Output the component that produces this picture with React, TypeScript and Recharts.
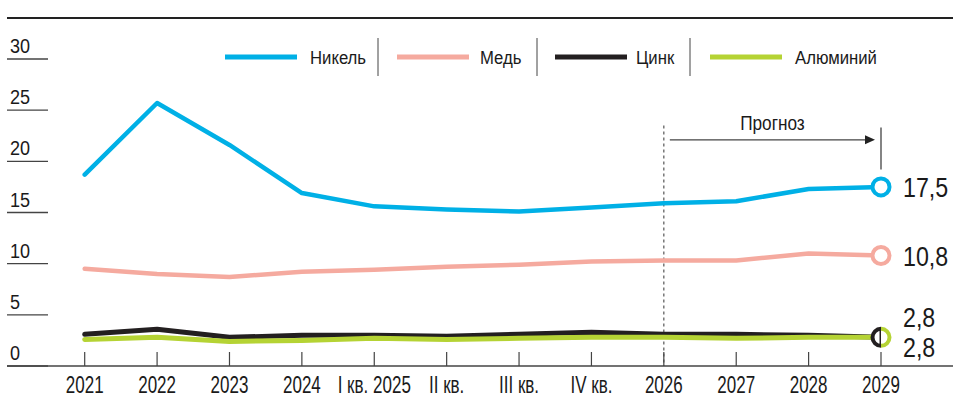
import React from 'react'
import { Line, LineChart, ReferenceLine, XAxis, YAxis } from 'recharts'

const categories = ['2021', '2022', '2023', '2024', 'I кв. 2025', 'II кв.', 'III кв.', 'IV кв.', '2026', '2027', '2028', '2029']
const nickel = [18.7, 25.7, 21.6, 16.9, 15.6, 15.3, 15.1, 15.5, 15.9, 16.1, 17.3, 17.5]
const copper = [9.5, 9.0, 8.7, 9.2, 9.4, 9.7, 9.9, 10.2, 10.3, 10.3, 11.0, 10.8]
const zinc = [3.1, 3.6, 2.8, 3.0, 3.0, 2.9, 3.1, 3.3, 3.1, 3.1, 3.0, 2.8]
const aluminium = [2.6, 2.8, 2.4, 2.5, 2.7, 2.6, 2.7, 2.8, 2.8, 2.7, 2.8, 2.8]
const yTicks = [0, 5, 10, 15, 20, 25, 30]

const FONT = "'Liberation Sans', Arial, sans-serif"
const BLUE = '#00b0e6'
const PINK = '#f5aa9f'
const BLACK = '#231f20'
const GREEN = '#b5d334'

const data = categories.map((label, i) => ({
  label,
  nickel: nickel[i],
  copper: copper[i],
  zinc: zinc[i],
  aluminium: aluminium[i],
}))

const legendItems = [
  { name: 'Никель', color: BLUE, x: 225 },
  { name: 'Медь', color: PINK, x: 397 },
  { name: 'Цинк', color: BLACK, x: 555 },
  { name: 'Алюминий', color: GREEN, x: 710 },
]
const legendTextX = [310, 480, 636, 795]
const legendSeps = [378, 537, 690]

const last = categories.length - 1

// narrow condensed-looking text: squeeze a regular sans horizontally
function NText({ x, y, size, sx, anchor = 'start', children }: any) {
  return (
    <text transform={`translate(${x},${y}) scale(${sx},1)`} fontSize={size} fontFamily={FONT} fill="#1a1a1a" textAnchor={anchor}>
      {children}
    </text>
  )
}

function YTick(props: any) {
  const { y, payload } = props
  return (
    <g>
      <line x1={7} x2={48} y1={y} y2={y} stroke="#444" strokeWidth={1.3} />
      <NText x={10} y={y - 6} size={21} sx={0.86}>{payload.value}</NText>
    </g>
  )
}

function XTick(props: any) {
  const { x, y, payload } = props
  return (
    <g>
      <line x1={x} x2={x} y1={y - 14} y2={y} stroke="#444" strokeWidth={1.2} />
      <NText x={x} y={y + 27} size={23} sx={0.74} anchor="middle">{payload.value}</NText>
    </g>
  )
}

function ringDot(color: string) {
  return (p: any) => {
    if (p.index !== last) return <g key={p.index} />
    return <circle key={p.index} cx={p.cx} cy={p.cy} r={8.5} fill="#fff" stroke={color} strokeWidth={4} />
  }
}

function halfDot(color: string, side: 'left' | 'right') {
  return (p: any) => {
    if (p.index !== last) return <g key={p.index} />
    const r = 8.5
    const { cx, cy } = p
    const sweep = side === 'left' ? 0 : 1
    return (
      <g key={p.index}>
        <path d={`M ${cx} ${cy - r} A ${r} ${r} 0 0 ${sweep} ${cx} ${cy + r}`} fill="#fff" stroke={color} strokeWidth={4} />
        {side === 'left' ? <line x1={cx} x2={cx} y1={cy - r} y2={cy + r} stroke={color} strokeWidth={3} /> : null}
      </g>
    )
  }
}

function endLabel(dx: number, dy: number) {
  return (p: any) => {
    if (p.index !== last) return <g key={p.index} />
    return (
      <g key={p.index}>
        <NText x={p.x + dx} y={p.y + dy} size={28} sx={0.83}>{String(p.value).replace('.', ',')}</NText>
      </g>
    )
  }
}

function ArrowShape(p: any) {
  const x1 = p.x1 + 6
  const x2 = p.x2 - 6
  const y = p.y1
  return (
    <g>
      <line x1={x1} x2={x2 - 8} y1={y} y2={y} stroke="#444" strokeWidth={1.3} />
      <polygon points={`${x2},${y} ${x2 - 10},${y - 4.5} ${x2 - 10},${y + 4.5}`} fill="#222" />
      <NText x={(x1 + x2) / 2} y={y - 10} size={21} sx={0.82} anchor="middle">Прогноз</NText>
    </g>
  )
}

export default function App() {
  return (
    <div style={{ position: 'relative', width: 953, height: 404, background: '#fff', overflow: 'hidden' }}>
      <style>{'body{margin:0}'}</style>
      <div style={{ position: 'absolute', top: 17, left: 7, right: 0, height: 2, background: '#222' }} />
      <svg width={953} height={90} style={{ position: 'absolute', top: 0, left: 0 }}>
        {legendItems.map((item, i) => (
          <g key={item.name}>
            <line x1={item.x} x2={item.x + 72} y1={57} y2={57} stroke={item.color} strokeWidth={5} />
            <NText x={legendTextX[i]} y={64} size={19} sx={0.88}>{item.name}</NText>
          </g>
        ))}
        {legendSeps.map((x) => (
          <line key={x} x1={x} x2={x} y1={38} y2={76} stroke="#444" strokeWidth={1} />
        ))}
      </svg>
      <LineChart width={953} height={404} data={data} margin={{ top: 59, right: 0, left: 6, bottom: 8 }}>
        <XAxis
          dataKey="label"
          interval={0}
          height={30}
          padding={{ left: 77.7, right: 72 }}
          axisLine={{ stroke: '#444', strokeWidth: 1.4 }}
          tickLine={false}
          tickSize={0}
          tickMargin={0}
          tick={<XTick />}
        />
        <YAxis width={1} domain={[0, 30]} ticks={yTicks} interval={0} axisLine={false} tickLine={false} tick={<YTick />} />
        <ReferenceLine segment={[{ x: '2026', y: 23.5 }, { x: '2026', y: 0 }]} stroke="#555" strokeWidth={1.2} strokeDasharray="3 3" />
        <ReferenceLine segment={[{ x: '2026', y: 22.1 }, { x: '2029', y: 22.1 }]} shape={ArrowShape} />
        <ReferenceLine segment={[{ x: '2029', y: 23.3 }, { x: '2029', y: 19.2 }]} stroke="#333" strokeWidth={1.2} />
        <Line dataKey="nickel" stroke={BLUE} strokeWidth={4.5} strokeLinecap="round" strokeLinejoin="round" dot={ringDot(BLUE)} label={endLabel(22, 10)} isAnimationActive={false} />
        <Line dataKey="copper" stroke={PINK} strokeWidth={4.5} strokeLinecap="round" strokeLinejoin="round" dot={ringDot(PINK)} label={endLabel(22, 11)} isAnimationActive={false} />
        <Line dataKey="zinc" stroke={BLACK} strokeWidth={5} strokeLinecap="round" strokeLinejoin="round" dot={halfDot(BLACK, 'left')} label={endLabel(22, -10.7)} isAnimationActive={false} />
        <Line dataKey="aluminium" stroke={GREEN} strokeWidth={5} strokeLinecap="round" strokeLinejoin="round" dot={halfDot(GREEN, 'right')} label={endLabel(22, 19.3)} isAnimationActive={false} />
      </LineChart>
    </div>
  )
}
